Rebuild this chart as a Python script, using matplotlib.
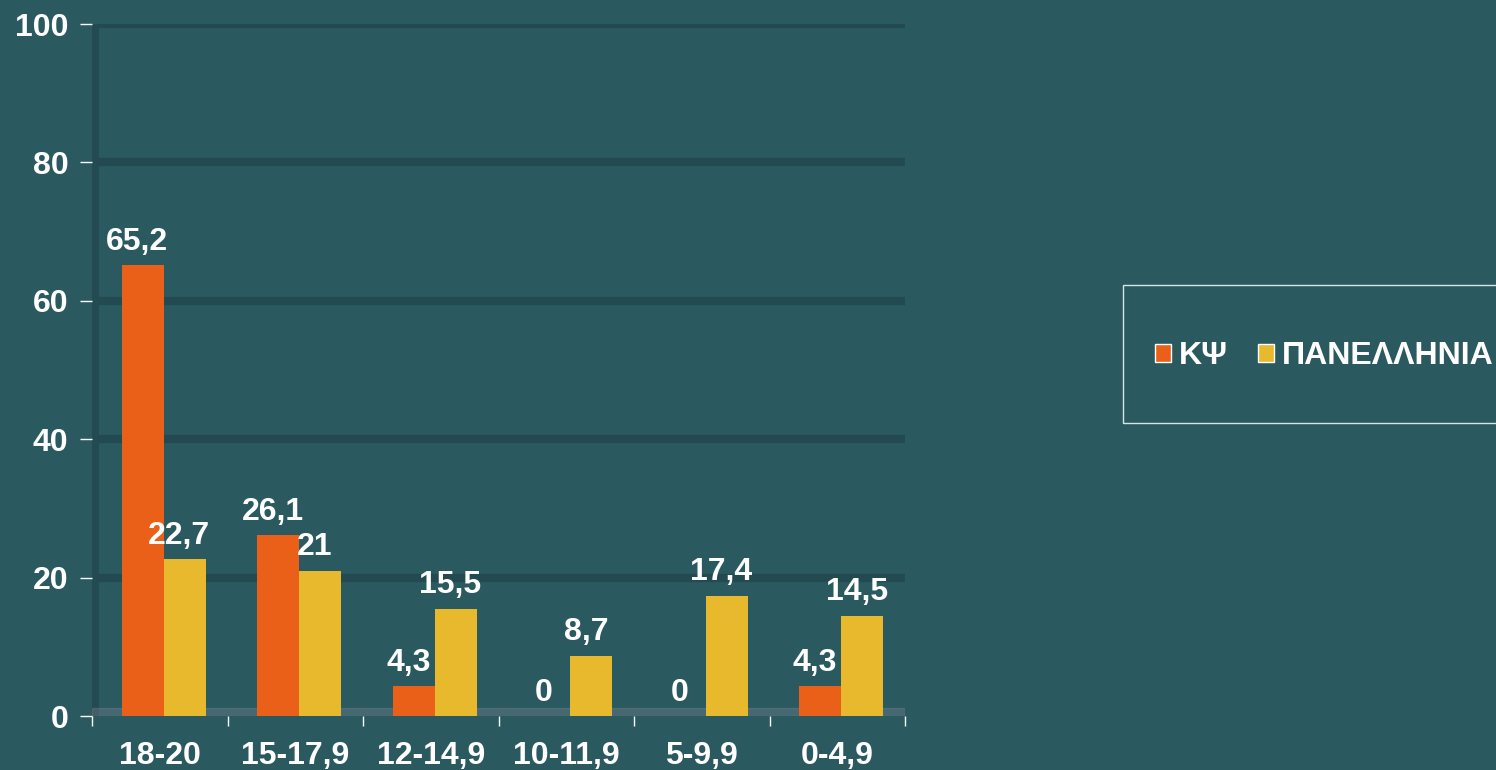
import matplotlib
matplotlib.use("Agg")
from matplotlib import pyplot as plt
from matplotlib.patches import Rectangle, Patch
import numpy as np

categories = ["18-20", "15-17,9", "12-14,9", "10-11,9", "5-9,9", "0-4,9"]
ky = [65.2, 26.1, 4.3, 0, 0, 4.3]
panellinia = [22.7, 21, 15.5, 8.7, 17.4, 14.5]
series_names = ["ΚΨ", "ΠΑΝΕΛΛΗΝΙΑ"]
yticks = [0, 20, 40, 60, 80, 100]

bg = "#2a5a60"
orange = "#ea6018"
yellow = "#e8b92c"
fs = 23

plt.rcParams["font.family"] = ["Liberation Sans", "DejaVu Sans"]
plt.rcParams["font.weight"] = "bold"

fig = plt.figure(figsize=(14.96, 7.7), dpi=100, facecolor=bg)
ax = fig.add_axes([0.0615, 0.0701, 0.5435, 0.8987], facecolor=bg)

x = np.arange(len(categories))
w = 0.31
b1 = ax.bar(x - w / 2 + 0.03, ky, w, color=orange, zorder=3)
b2 = ax.bar(x + w / 2 + 0.03, panellinia, w, color=yellow, zorder=3)

for bars, vals in [(b1, ky), (b2, panellinia)]:
    for r, v in zip(bars, vals):
        lab = ("%g" % v).replace(".", ",")
        ax.annotate(lab, (r.get_x() + r.get_width() / 2 - 0.04, v),
                    xytext=(0, 6), textcoords="offset points",
                    ha="center", va="bottom", color="white",
                    fontsize=fs, fontweight="bold", zorder=5)

ax.set_xlim(-0.5, len(categories) - 0.5)
ax.set_ylim(0, 100)

# dark grid bands and back wall
for yv in yticks[1:]:
    ax.axhline(yv, color="#234a50", lw=6, zorder=1)
ax.axvline(-0.5, color="#244b51", lw=10, zorder=1)
ax.axhspan(0, 1.2, color="#8a8a9a", alpha=0.3, zorder=2)

ax.set_yticks(yticks)
ax.set_xticks(x)
ax.set_xticklabels(categories)
ax.set_xticks(np.arange(-0.5, len(categories)), minor=True)
ax.tick_params(axis="x", which="major", length=0, pad=18,
               labelsize=fs, labelcolor="white")
ax.tick_params(axis="x", which="minor", length=7, color="white", width=1)
ax.tick_params(axis="y", length=9, color="white", width=1, pad=8,
               labelsize=fs, labelcolor="white")
for lab in ax.get_xticklabels() + ax.get_yticklabels():
    lab.set_fontweight("bold")
for s in ax.spines.values():
    s.set_visible(False)

# legend box
fig.patches.append(Rectangle((1123 / 1496, 1 - 423 / 770), 0.3, 138 / 770,
                             transform=fig.transFigure, fill=False,
                             edgecolor="#d8e4e4", lw=1))
handles = [Patch(facecolor=orange, edgecolor="white", lw=1),
           Patch(facecolor=yellow, edgecolor="white", lw=1)]
fig.legend(handles, series_names, loc="center left",
           bbox_to_anchor=(1155 / 1496, 1 - 356 / 770), ncol=2,
           frameon=False, borderpad=0, borderaxespad=0,
           handlelength=0.5, handleheight=0.5,
           handletextpad=0.25, columnspacing=0.95,
           prop={"size": fs, "weight": "bold"}, labelcolor="white")

plt.savefig("out.png", facecolor=bg)
